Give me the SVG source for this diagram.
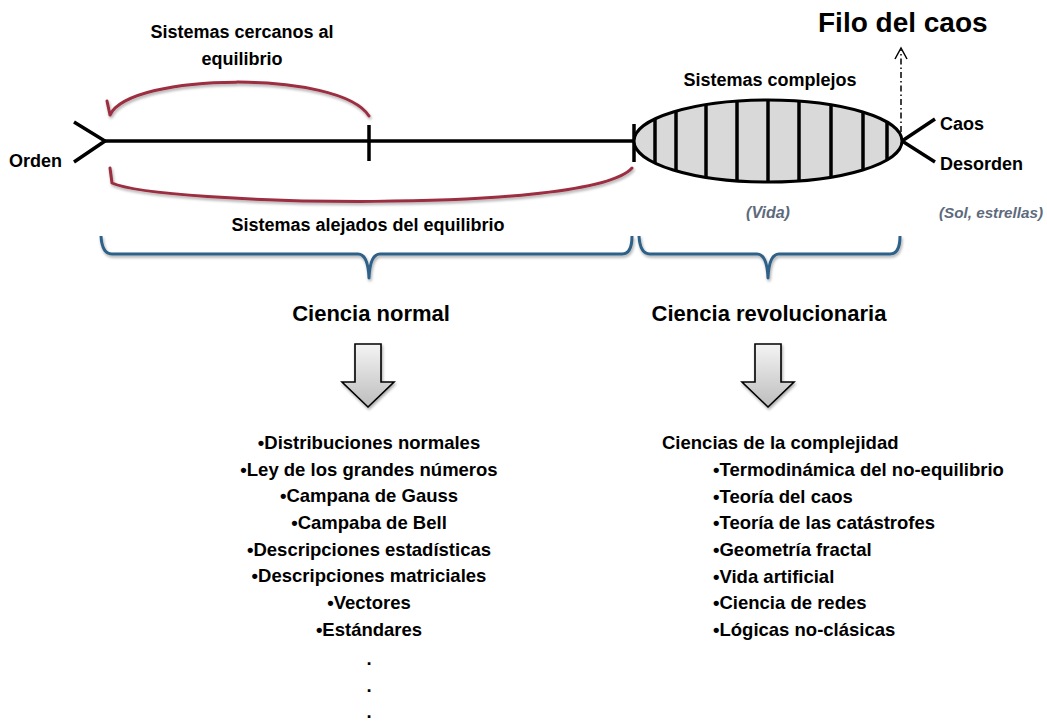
<svg xmlns="http://www.w3.org/2000/svg" width="1047" height="721" viewBox="0 0 1047 721">
<style>
text{font-family:"Liberation Sans",Arial,sans-serif;font-weight:bold;fill:#000}
.t18{font-size:18px}
.lst{font-size:18.5px}
.hd{font-size:22px}
.it{font-size:16px;font-style:italic;fill:#5d6a7c}
.blk{stroke:#000;stroke-width:3.5;fill:none;stroke-linecap:butt}
.red{stroke:#9b2d3f;stroke-width:3;fill:none;stroke-linecap:round;stroke-linejoin:round}
.blue{stroke:#2e6188;stroke-width:3;fill:none;stroke-linejoin:round}
.barrow{fill:url(#gArrow);stroke:#000;stroke-width:1.6;stroke-linejoin:miter}
</style>
<defs>
<linearGradient id="gArrow" x1="0" y1="0" x2="0" y2="1">
<stop offset="0" stop-color="#f4f4f4"/>
<stop offset="1" stop-color="#bdbdbd"/>
</linearGradient>
<filter id="sh" x="-10%" y="-20%" width="120%" height="150%">
<feGaussianBlur in="SourceAlpha" stdDeviation="1.5"/>
<feOffset dx="1" dy="2" result="b"/>
<feComponentTransfer><feFuncA type="linear" slope="0.35"/></feComponentTransfer>
<feMerge><feMergeNode/><feMergeNode in="SourceGraphic"/></feMerge>
</filter>
<clipPath id="ellClip"><ellipse cx="768" cy="141" rx="134" ry="41"/></clipPath>
</defs>
<rect width="1047" height="721" fill="#fff"/>

<g id="axis">
<polyline class="blk" points="74,122 105,141 74,162"/>
<line class="blk" x1="105" y1="141" x2="634" y2="141"/>
<line class="blk" x1="369" y1="125" x2="369" y2="161"/>
<line class="blk" x1="634" y1="124" x2="634" y2="162"/>
<polyline class="blk" points="935,119 902,141 935,162"/>
</g>

<g id="complex-systems">
<ellipse cx="768" cy="141" rx="134" ry="41" fill="#d9d9d9"/>
<g clip-path="url(#ellClip)" stroke="#000" stroke-width="3.5">
<line x1="655" y1="95" x2="655" y2="190"/>
<line x1="676" y1="95" x2="676" y2="190"/>
<line x1="706" y1="95" x2="706" y2="190"/>
<line x1="737" y1="95" x2="737" y2="190"/>
<line x1="768" y1="95" x2="768" y2="190"/>
<line x1="799" y1="95" x2="799" y2="190"/>
<line x1="831" y1="95" x2="831" y2="190"/>
<line x1="863" y1="95" x2="863" y2="190"/>
<line x1="887" y1="95" x2="887" y2="190"/>
</g>
<ellipse cx="768" cy="141" rx="134" ry="41" fill="none" stroke="#000" stroke-width="3"/>
<text class="t18" x="770" y="86" text-anchor="middle">Sistemas complejos</text>
<text class="it" x="768" y="218" text-anchor="middle">(Vida)</text>
</g>

<g id="labels-axis">
<text class="t18" x="9" y="167">Orden</text>
<text class="t18" x="940" y="130">Caos</text>
<text class="t18" x="940" y="170">Desorden</text>
<text class="it" x="939" y="218" style="font-size:15px" textLength="104" lengthAdjust="spacingAndGlyphs">(Sol, estrellas)</text>
<text x="818" y="32" style="font-size:28px">Filo del caos</text>
<text class="t18" x="242" y="38" text-anchor="middle">Sistemas cercanos al</text>
<text class="t18" x="242" y="65" text-anchor="middle">equilibrio</text>
<text class="t18" x="368" y="231" text-anchor="middle">Sistemas alejados del equilibrio</text>
</g>

<g id="connectors">
<g filter="url(#sh)">
<path class="red" d="M369,116 C340,70 130,72 110,115 L107,101"/>
<path class="red" d="M632,168 C590,215 160,205 112,183 L110,168"/>
<path class="blue" d="M101,236 Q102,254 112,254 L358,254 Q368,254 369,278 Q370,254 380,254 L622,254 Q632,254 632,236"/>
<path class="blue" d="M639,236 Q640,254 650,254 L757,254 Q767,254 768,278 Q769,254 779,254 L890,254 Q900,254 900,236"/>
</g>
<line x1="901" y1="132" x2="901" y2="50" stroke="#000" stroke-width="1.5" stroke-dasharray="6,3,1.5,3"/>
<polyline points="895,59 901,48 907,59" fill="none" stroke="#000" stroke-width="1.5"/>
<g filter="url(#sh)">
<path class="barrow" d="M355,344 L381,344 L381,382 L394,382 L368,407 L342,382 L355,382 Z"/>
<path class="barrow" d="M755,344 L781,344 L781,382 L794,382 L768,407 L742,382 L755,382 Z"/>
</g>
</g>

<g id="ciencia-normal">
<text class="hd" x="371" y="321" text-anchor="middle">Ciencia normal</text>
<g class="lst" text-anchor="middle">
<text class="lst" x="369" y="449">•Distribuciones normales</text>
<text class="lst" x="369" y="476">•Ley de los grandes números</text>
<text class="lst" x="369" y="502">•Campana de Gauss</text>
<text class="lst" x="369" y="529">•Campaba de Bell</text>
<text class="lst" x="369" y="556">•Descripciones estadísticas</text>
<text class="lst" x="369" y="582">•Descripciones matriciales</text>
<text class="lst" x="369" y="609">•Vectores</text>
<text class="lst" x="369" y="636">•Estándares</text>
<text class="lst" x="369" y="665">.</text>
<text class="lst" x="369" y="692">.</text>
<text class="lst" x="369" y="718">.</text>
</g>
</g>

<g id="ciencia-revolucionaria">
<text class="hd" x="769" y="321" text-anchor="middle">Ciencia revolucionaria</text>
<text class="lst" x="662" y="449">Ciencias de la complejidad</text>
<text class="lst" x="713" y="476">•Termodinámica del no-equilibrio</text>
<text class="lst" x="713" y="503">•Teoría del caos</text>
<text class="lst" x="713" y="529">•Teoría de las catástrofes</text>
<text class="lst" x="713" y="556">•Geometría fractal</text>
<text class="lst" x="713" y="583">•Vida artificial</text>
<text class="lst" x="713" y="609">•Ciencia de redes</text>
<text class="lst" x="713" y="636">•Lógicas no-clásicas</text>
</g>
</svg>
